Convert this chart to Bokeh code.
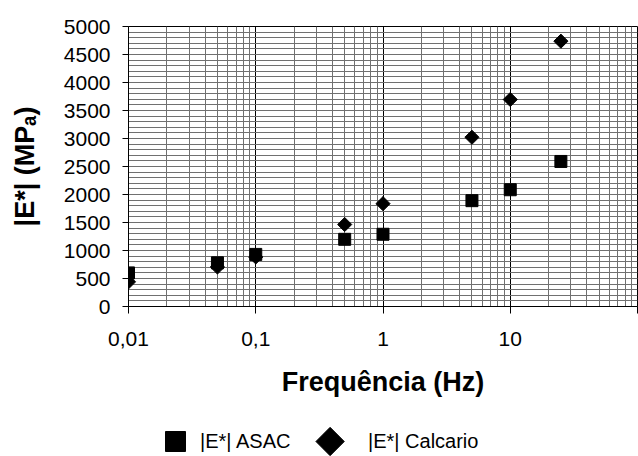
from math import pi
from bokeh.plotting import figure
from bokeh.layouts import column
from bokeh.models import Range1d, FixedTicker, CustomJSTickFormatter, Legend, LegendItem
from bokeh.embed import file_html
from bokeh.resources import INLINE

# ---- data ----
freq = [0.01, 0.05, 0.1, 0.5, 1, 5, 10, 25]
asac = [600, 780, 930, 1200, 1290, 1890, 2085, 2590]
calcario = [440, 705, 884, 1464, 1836, 3022, 3696, 4738]

x_major = [0.01, 0.1, 1, 10, 100]
x_labels = ["0,01", "0,1", "1", "10", ""]
y_major = [0, 500, 1000, 1500, 2000, 2500, 3000, 3500, 4000, 4500, 5000]

x_minor = [m * d for d in [0.01, 0.1, 1, 10] for m in range(2, 10)]
y_minor = list(range(0, 5001, 100))

series_names = ["|E*| ASAC", "|E*| Calcario"]

FONT = "Liberation Sans"

p = figure(width=638, height=426, x_axis_type="log",
           x_range=Range1d(0.01, 100), y_range=Range1d(0, 5000),
           output_backend="svg", toolbar_location=None,
           min_border_left=128, min_border_right=1,
           min_border_top=26, min_border_bottom=120)

p.background_fill_color = "white"
p.border_fill_color = "white"
p.outline_line_color = "black"
p.outline_line_width = 1

# x axis
p.xaxis.ticker = FixedTicker(ticks=x_major, minor_ticks=x_minor)
p.xaxis.formatter = CustomJSTickFormatter(args=dict(xt=x_major, xl=x_labels), code="""
const i = xt.findIndex(t => Math.abs(Math.log10(t) - Math.log10(tick)) < 1e-6);
return i >= 0 ? xl[i] : "";
""")
p.xaxis.axis_label = "Frequência (Hz)"
p.xaxis.axis_label_text_font = FONT
p.xaxis.axis_label_text_font_style = "bold"
p.xaxis.axis_label_text_font_size = "27px"
p.xaxis.axis_label_text_color = "black"
p.xaxis.axis_label_standoff = 18
p.xaxis.major_label_text_font = FONT
p.xaxis.major_label_text_font_size = "21px"
p.xaxis.major_label_text_color = "black"
p.xaxis.major_label_standoff = 18
p.xaxis.major_tick_out = 7
p.xaxis.major_tick_in = 0
p.xaxis.minor_tick_out = 0
p.xaxis.minor_tick_in = 0
p.xaxis.axis_line_color = "black"
p.xaxis.major_tick_line_color = "black"

# y axis
p.yaxis.ticker = FixedTicker(ticks=y_major, minor_ticks=y_minor)
p.yaxis.axis_label = "|E*| (MPₐ)"
p.yaxis.axis_label_text_font = FONT
p.yaxis.axis_label_text_font_style = "bold"
p.yaxis.axis_label_text_font_size = "27px"
p.yaxis.axis_label_text_color = "black"
p.yaxis.axis_label_standoff = 21
p.yaxis.major_label_text_font = FONT
p.yaxis.major_label_text_font_size = "21px"
p.yaxis.major_label_text_color = "black"
p.yaxis.major_label_standoff = 12
p.yaxis.major_tick_out = 6
p.yaxis.major_tick_in = 0
p.yaxis.minor_tick_out = 0
p.yaxis.minor_tick_in = 0
p.yaxis.axis_line_color = "black"
p.yaxis.major_tick_line_color = "black"

# grids
p.xgrid.grid_line_color = "black"
p.xgrid.grid_line_alpha = 1
p.xgrid.minor_grid_line_color = "#707070"
p.ygrid.grid_line_color = "#707070"
p.ygrid.minor_grid_line_color = "#707070"

# data
p.scatter(freq, asac, marker="square", size=12, color="black")
p.scatter(freq, calcario, marker="square", size=10, angle=pi / 4, color="black")

# ---- legend strip below the chart ----
# ranges of this strip are in pixels of its frame (frame is aligned with the chart frame)
lg = figure(width=638, height=30, x_range=Range1d(0, 510), y_range=Range1d(0, 30),
            output_backend="svg", toolbar_location=None,
            x_axis_location=None, y_axis_location=None,
            min_border=0, min_border_left=0, min_border_right=0,
            min_border_top=0, min_border_bottom=0)
lg.outline_line_color = None
lg.xgrid.visible = False
lg.ygrid.visible = False
lg.background_fill_color = "white"
lg.border_fill_color = "white"

# key renderers (their data lie outside this strip's ranges, so only the legend keys show)
k1 = lg.scatter(freq, asac, marker="square", size=12, color="black")
k2 = lg.scatter(freq, calcario, marker="square", size=10, color="black",
                fill_alpha=0, line_alpha=0)
# rotated-square key for the diamond series (legend keys ignore marker angle)
lg.scatter([202], [15], marker="square", size=20, angle=pi / 4, color="black")

common = dict(glyph_width=50, glyph_height=50, padding=0, margin=0, spacing=0,
              border_line_alpha=0, background_fill_alpha=0,
              label_text_font=FONT, label_text_font_size="20px",
              label_text_color="black", orientation="horizontal")
leg1 = Legend(items=[LegendItem(label=series_names[0], renderers=[k1])],
              location=(22, -10), label_standoff=0, **common)
leg2 = Legend(items=[LegendItem(label=series_names[1], renderers=[k2])],
              location=(177, -10), label_standoff=13, **common)
lg.add_layout(leg1)
lg.add_layout(leg2)

layout = column(p, lg, spacing=0)
open("out.html", "w").write(file_html(layout, INLINE))
